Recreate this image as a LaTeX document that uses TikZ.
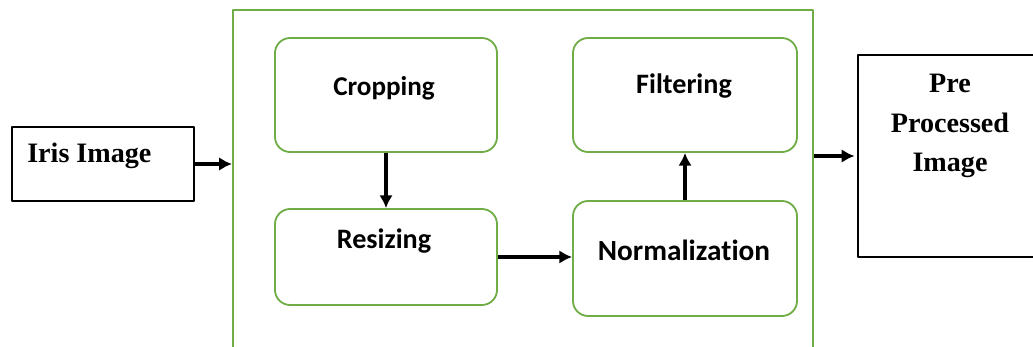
\documentclass[tikz,border=0pt]{standalone}
\usepackage{fontspec}
\setmainfont{Liberation Serif}
\newfontfamily\calfont[Ligatures=NoCommon]{Carlito}
\usetikzlibrary{arrows.meta}
\definecolor{stagegreen}{HTML}{70AD47}
\begin{document}
\begin{tikzpicture}[x=0.025cm,y=-0.025cm, line join=round,
		frame/.style={draw=stagegreen, line width=1.3pt, minimum width=14.5cm, minimum height=8.75cm, inner sep=0pt},
		stage/.style={draw=stagegreen, line width=1.3pt, rounded corners=0.38cm, inner sep=0pt},
		iobox/.style={draw, line width=0.9pt, inner sep=0pt},
		serif/.style={font=\fontsize{20}{28}\selectfont\bfseries, inner sep=0pt, align=center},
		sans/.style={font=\calfont\fontsize{20}{24}\selectfont\bfseries, inner sep=0pt},
		flow/.style={-{Latex[length=3.2mm,width=3.4mm]}, line width=2.3pt}]
			\useasboundingbox (0,0) rectangle (1033,347);
			\clip (0,0) rectangle (1033,347);
			% outer frame and boxes
			\node[frame] (pre-frame) at (523,185) {};
			\node[iobox, minimum width=4.55cm, minimum height=1.85cm] (iris) at (103,164) {};
			\node[iobox, minimum width=5cm, minimum height=5.05cm] (out) at (958,156) {};
			\node[stage, minimum width=5.55cm, minimum height=2.85cm] (crop) at (386,95) {};
			\node[stage, minimum width=5.55cm, minimum height=2.4cm] (resize) at (386,257) {};
			\node[stage, minimum width=5.6cm, minimum height=2.85cm] (filter) at (685,95) {};
			\node[stage, minimum width=5.6cm, minimum height=2.875cm] (norm) at (685,258.5) {};
			% labels
			\node[serif, anchor=west] (iris-txt) at (27,156) {Iris Image};
			\node[serif] (out-txt) at (950,126) {Pre\\Processed\\Image};
			\node[sans, font=\calfont\fontsize{19.3}{24}\selectfont\bfseries] (crop-txt) at (384,88) {Cropping};
			\node[sans] (resize-txt) at (384,241) {Resizing};
			\node[sans] (filter-txt) at (684,86) {Filtering};
			\node[sans, font=\calfont\fontsize{20.8}{24}\selectfont\bfseries] (norm-txt) at (684,250) {Normalization};
			% arrows
			\draw[flow] (iris.east) -- (iris.east -| pre-frame.west);
			\draw[flow] (crop) -- (resize);
			\draw[flow] (resize.east) -- (resize.east -| norm.west);
			\draw[flow] (norm.north) -- (filter.south);
			\draw[flow] (pre-frame.east |- out.west) -- ([xshift=-2pt]out.west);
		\end{tikzpicture}
\end{document}
